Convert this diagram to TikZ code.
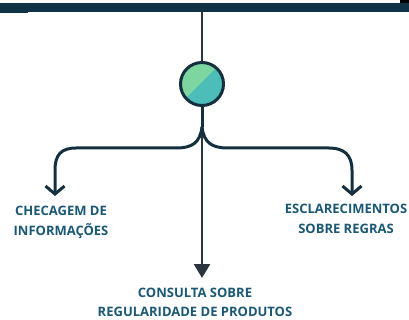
\documentclass[tikz,border=0pt]{standalone}
\usepackage{fontspec}
\setmainfont{Open Sans}
\usetikzlibrary{arrows.meta}
\definecolor{barc}{HTML}{0E3345}
\definecolor{linec}{HTML}{14303F}
\definecolor{stemc}{HTML}{2A3540}
\definecolor{txtc}{HTML}{1B5874}
\definecolor{lgreen}{HTML}{7DD5A0}
\definecolor{tealc}{HTML}{4DBDBA}
\tikzset{
  lbl/.style={text=txtc, font=\bfseries\fontsize{13}{20}\selectfont, align=center, inner sep=0pt},
  branch/.style={draw=linec, line width=3pt, line cap=round, -{Straight Barb[length=8pt,width=19pt,line width=3pt]}},
  stem/.style={draw=stemc, line width=2.8pt},
}
\begin{document}
\begin{tikzpicture}[x=1pt,y=-1pt]
\useasboundingbox (0,0) rectangle (409,320);
\fill[white] (0,0) rectangle (409,320);
% top bar
\fill[barc] (0,3) rectangle (409,12);
\fill[barc] (0,12) rectangle (28,13.5);
\fill[black] (400,0) rectangle (409,3);
\coordinate (top) at (202,12);
% hub circle
\node[circle, minimum size=43pt, inner sep=0pt] (hub) at (202,84) {};
\draw[stem] (top) -- (hub.north);
\begin{scope}
  \clip (hub.center) circle (21.5);
  \fill[lgreen] (170,50) rectangle (236,118);
  \fill[tealc] (160,124) -- (246,38) -- (246,124) -- cycle;
\end{scope}
\draw[linec, line width=3pt] (hub.center) circle (21.5);
% text nodes
\node[lbl] (left) at (61,222.5) {CHECAGEM DE\\INFORMAÇÕES};
\node[lbl] (right) at (346,219) {ESCLARECIMENTOS\\SOBRE REGRAS};
\node[lbl, font=\bfseries\fontsize{13}{19.5}\selectfont] (bottom) at (195,302.5) {CONSULTA SOBRE\\REGULARIDADE DE PRODUTOS};
\coordinate (j) at (202,127);
\coordinate (ltip) at (55,196);
\coordinate (rtip) at (352,196);
\coordinate (btip) at (202,278);
% central arrow
\draw[stem, -{Triangle[length=14pt,width=16pt]}] (hub.south) -- (btip);
% branches
\draw[draw=linec, line width=3pt] (hub.south) -- (j);
\draw[branch] (j) .. controls (200,143) and (192,148) .. (176,148) -- (76,148) .. controls (61,148) and (55,155) .. (55,170) -- (ltip);
\draw[branch] (j) .. controls (204,143) and (212,148) .. (228,148) -- (329,148) .. controls (344,148) and (352,155) .. (352,170) -- (rtip);
\end{tikzpicture}
\end{document}
